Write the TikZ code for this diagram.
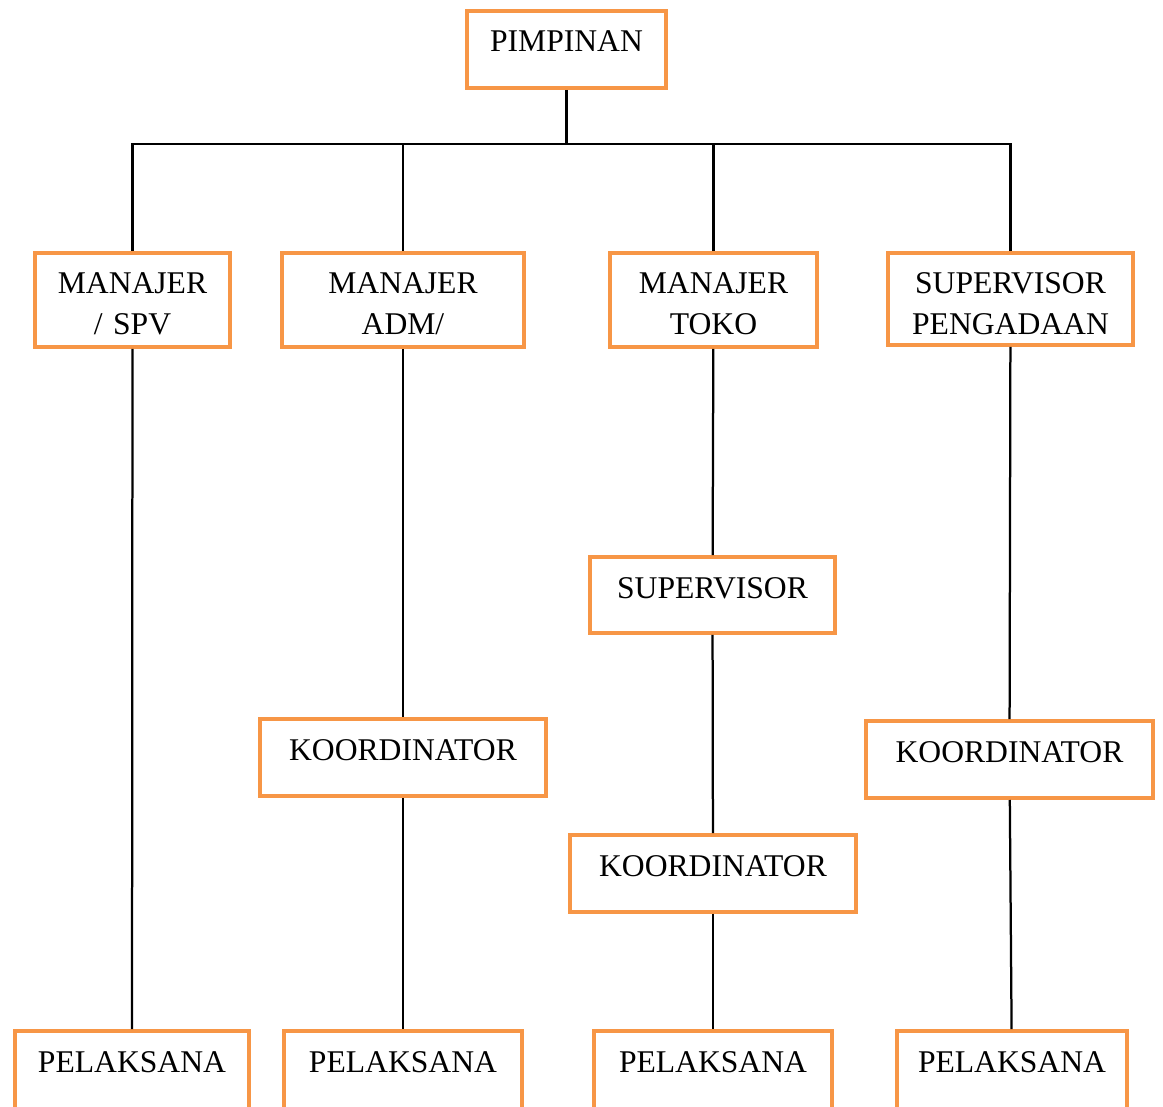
\documentclass[tikz,border=0pt]{standalone}
\usepackage{fontspec}
\setmainfont{Liberation Serif}
\definecolor{boxorange}{HTML}{F79646}
\begin{document}
\begin{tikzpicture}[x=0.02cm,y=-0.02cm]
        \useasboundingbox (0,0) rectangle (1163,1106);
        \clip (0,0) rectangle (1163,1106);
        \begin{scope}[every node/.style={draw=boxorange,line width=0.08cm,inner sep=0pt,anchor=north,align=center,text height=0.82cm,text depth=1.06cm,font=\fontsize{18}{23.2}\selectfont}]
        \node[text width=3.98cm,text depth=0.72cm] (pimpinan) at (566.5,9) {PIMPINAN};
        \node[text width=3.90cm] (manspv) at (132.5,251) {MANAJER\\/ SPV};
        \node[text width=4.84cm] (manadm) at (403,251) {MANAJER\\ADM/};
        \node[text width=4.14cm] (mantoko) at (713.5,251) {MANAJER\\TOKO};
        \node[text width=4.90cm,text depth=1.02cm] (spvpeng) at (1010.5,251) {SUPERVISOR\\PENGADAAN};
        \node[text width=4.90cm,text depth=0.70cm] (spvtoko) at (712.5,555) {SUPERVISOR};
        \node[text width=5.72cm,text depth=0.72cm] (koradm) at (403,717) {KOORDINATOR};
        \node[text width=5.74cm,text depth=0.72cm] (korpeng) at (1009.5,719) {KOORDINATOR};
        \node[text width=5.72cm,text depth=0.72cm] (kortoko) at (713,833) {KOORDINATOR};
        \node[text width=4.68cm,text depth=1.18cm] (pelspv) at (132,1029) {PELAKSANA};
        \node[text width=4.78cm,text depth=1.18cm] (peladm) at (403,1029) {PELAKSANA};
        \node[text width=4.76cm,text depth=1.18cm] (peltoko) at (713,1029) {PELAKSANA};
        \node[text width=4.60cm,text depth=1.18cm] (pelpeng) at (1012,1029) {PELAKSANA};
        \end{scope}
        \coordinate (bus) at (566.5,144);
        \begin{scope}[every edge/.style={draw=black,line width=0.045cm}]
        \draw[line width=0.045cm] (pimpinan.south) -- (pimpinan.south |- bus);
        \draw[line width=0.045cm] (manspv.north) |- (spvpeng.north |- bus) -- (spvpeng.north);
        \path (manadm.north) edge (manadm.north |- bus)
              (mantoko.north) edge (mantoko.north |- bus)
              (manspv) edge (pelspv)
              (manadm) edge (koradm)
              (koradm) edge (peladm)
              (mantoko) edge (spvtoko)
              (spvtoko) edge (kortoko)
              (kortoko) edge (peltoko)
              (spvpeng) edge (korpeng)
              (korpeng) edge (pelpeng);
        \end{scope}
        \end{tikzpicture}
\end{document}
